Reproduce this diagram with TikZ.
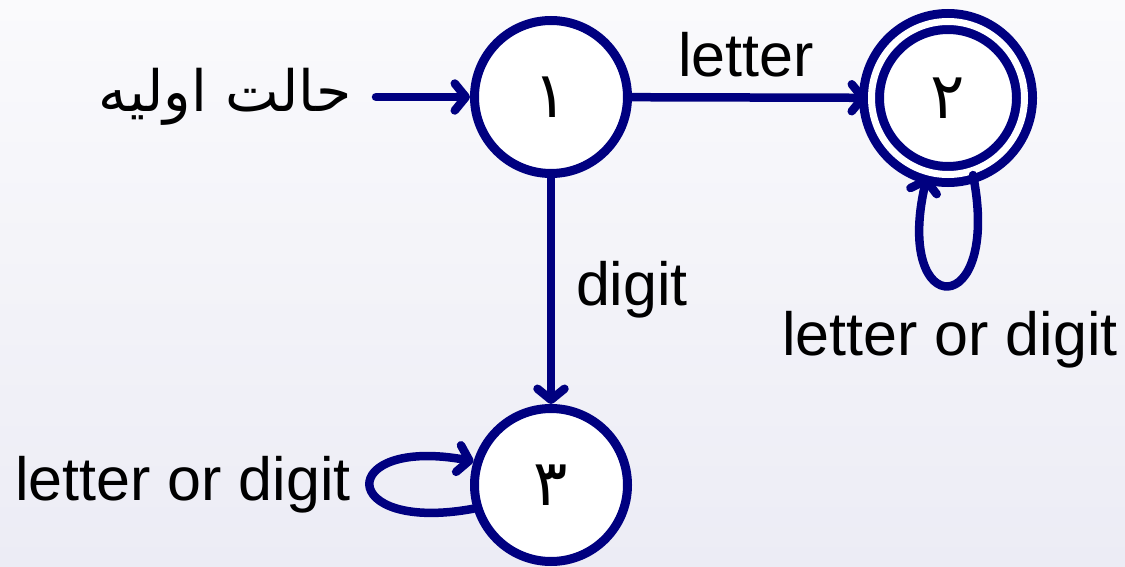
\documentclass[tikz,border=0pt]{standalone}
\usepackage{fontspec}
\setmainfont{Liberation Sans}
\newfontfamily\arabicfont[Script=Arabic]{DejaVu Sans}
\TeXXeTstate=1
\usetikzlibrary{arrows.meta}
\definecolor{edgecol}{RGB}{0,0,128}
\definecolor{bgtop}{RGB}{250,250,252}
\definecolor{bgbot}{RGB}{236,236,245}
\tikzset{
  state/.style={circle, draw=edgecol, fill=white, line width=9pt, minimum size=153pt, inner sep=0pt, font=\arabicfont\fontsize{64}{70}\selectfont},
  accstate/.style={state, double=white, double distance=7pt, minimum size=153pt},
  edge/.style={draw=edgecol, line width=8.5pt, line cap=round, -{Straight Barb[length=11pt,width=27pt,round]}},
  lbl/.style={font=\fontsize{61}{70}\selectfont, text=black, inner sep=0pt}
}
\begin{document}
\begin{tikzpicture}[x=1pt,y=-1pt]
\shade[top color=bgtop, bottom color=bgbot] (0,0) rectangle (1125,567);
\useasboundingbox (0,0) rectangle (1125,567);
\node[state] (n1) at (551,97) {\beginR ۱\endR};
\node[accstate] (n2) at (948,98) {\beginR ۲\endR};
\node[state] (n3) at (551,485) {\beginR ۳\endR};
\node[inner sep=0pt, font=\arabicfont\fontsize{57}{64}\selectfont] (init) at (225,97) {\beginR حالت اولیه\endR};
\coordinate (start) at (376,97);
\draw[edge] (start) -- (n1);
\draw[edge] (n1) -- (n2);
\draw[edge] (n1) -- (n3);
\draw[edge] (n2.-72) .. controls (1002,322) and (893,322) .. (n2.-105);
\draw[edge] (n3.-163) .. controls (336,534) and (336,436) .. (n3.163);
\node[lbl] (l12) at (746,55) {letter};
\node[lbl] (l13) at (632,290) {digit};
\node[lbl] (l22) at (950,340) {letter or digit};
\node[lbl] (l33) at (183,485) {letter or digit};
\end{tikzpicture}
\end{document}
